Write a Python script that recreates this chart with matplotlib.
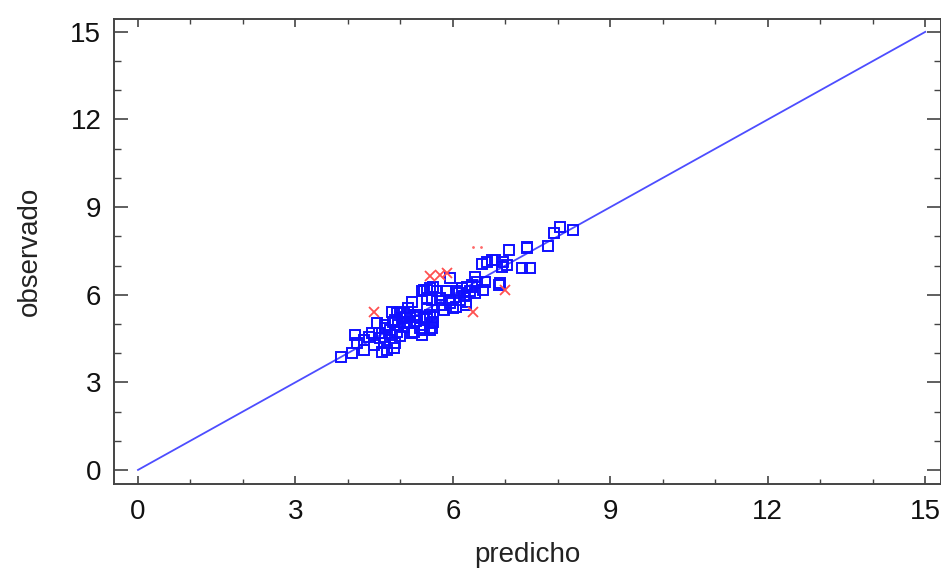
import matplotlib
matplotlib.use("Agg")
import matplotlib.pyplot as plt
from matplotlib.ticker import MultipleLocator

plt.rcParams['font.family'] = ['Liberation Sans', 'DejaVu Sans']

sq_x = [8.05, 7.92, 8.29, 7.82, 7.42, 7.42, 7.06, 7.31, 7.46,
        6.55, 6.65, 6.74, 6.81, 6.96, 6.93, 7.03,
        6.43, 6.62, 6.90, 6.36, 6.58,
        5.95, 5.41, 5.51, 5.63, 5.70, 5.22, 5.51, 5.60, 5.76,
        5.79, 5.95, 6.01, 5.83, 6.17, 6.27, 6.36, 6.46, 6.33,
        6.11, 6.21, 6.14, 6.24, 6.87,
        5.44, 5.57, 5.86, 6.08, 6.43, 5.92, 6.05, 6.24,
        3.86, 4.08, 4.14, 4.30, 4.18, 4.46, 4.49, 4.56, 4.65, 4.68, 4.62,
        4.90, 4.87, 4.84, 5.00, 5.03, 4.71, 4.81, 4.94, 5.06, 5.19, 5.22,
        5.41, 5.38, 5.57, 5.60, 5.51, 5.63, 5.10, 5.29, 4.90, 5.13, 4.94, 4.84,
        5.06, 5.19, 5.32, 5.44, 5.57, 5.63, 5.06, 5.25, 5.44, 5.60,
        4.30, 4.40, 4.75, 4.60, 4.70, 5.00, 5.30, 5.50, 4.85, 5.15, 4.70, 4.95]
sq_y = [8.33, 8.10, 8.22, 7.68, 7.65, 7.59, 7.53, 6.91, 6.93,
        7.04, 7.13, 7.19, 7.19, 7.13, 6.96, 7.02,
        6.62, 6.45, 6.39, 6.28, 6.16,
        6.56, 6.11, 6.16, 6.28, 6.11, 5.76, 5.88, 5.82, 5.88,
        5.65, 5.71, 5.54, 5.48, 6.22, 6.28, 6.34, 6.45, 6.11,
        6.05, 5.94, 5.82, 5.76, 6.34,
        6.16, 6.22, 6.11, 6.11, 6.05, 5.82, 5.59, 5.65,
        3.88, 4.00, 4.62, 4.45, 4.34, 4.68, 4.28, 5.02, 4.05, 4.34, 4.51,
        4.34, 4.17, 5.42, 5.42, 5.19, 4.85, 4.79, 4.74, 4.91, 5.02, 4.68,
        4.62, 4.85, 4.79, 5.02, 5.25, 5.25, 5.25, 5.31, 5.14, 5.08, 5.37, 4.62,
        5.37, 5.31, 5.25, 5.19, 5.31, 5.08, 5.02, 4.74, 4.79, 4.85,
        4.10, 4.55, 4.10, 4.70, 4.95, 4.60, 5.10, 5.50, 5.05, 5.55, 4.55, 4.95]

x_out = [4.49, 5.56, 5.75, 5.89, 6.39, 7.00]
y_out = [5.42, 6.64, 6.68, 6.73, 5.42, 6.16]

dot_x = [6.39, 6.53]
dot_y = [7.65, 7.65]

diag = [0, 15]

fig = plt.figure(figsize=(9.41, 5.68), dpi=100)
ax = fig.add_axes([0.121, 0.148, 0.879, 0.819])

ax.plot(diag, diag, color='#4d4dff', linewidth=1.3, zorder=1)
ax.plot(sq_x, sq_y, linestyle='none', marker='s', markersize=7.5,
        markerfacecolor='none', markeredgecolor='#1010ff', markeredgewidth=1.4, zorder=2)
ax.plot(x_out, y_out, linestyle='none', marker='x', markersize=7.5,
        color='#ff5050', markeredgewidth=1.3, zorder=3)
ax.plot(dot_x, dot_y, linestyle='none', marker='.', markersize=2,
        color='#ff6a6a', zorder=3)

ax.set_xlim(-0.46, 15.3)
ax.set_ylim(-0.48, 15.45)
ax.xaxis.set_major_locator(MultipleLocator(3))
ax.xaxis.set_minor_locator(MultipleLocator(1))
ax.yaxis.set_major_locator(MultipleLocator(3))
ax.yaxis.set_minor_locator(MultipleLocator(1))

for s in ax.spines.values():
    s.set_color('#444444')
    s.set_linewidth(1.4)

ax.tick_params(axis='both', which='both', direction='in', top=True, right=True,
               colors='#444444', labelcolor='#111111', labelsize=20)
ax.tick_params(axis='x', which='major', length=6, width=1.2, pad=11)
ax.tick_params(axis='x', which='minor', length=3.5, width=1.0)
ax.tick_params(axis='y', which='major', length=10, width=1.2, pad=9)
ax.tick_params(axis='y', which='minor', length=5, width=1.0)

ax.set_xlabel("predicho", fontsize=20, color='#222222', labelpad=12)
ax.set_ylabel("observado", fontsize=20, color='#222222', labelpad=20)

fig.savefig("out.png", dpi=100)
